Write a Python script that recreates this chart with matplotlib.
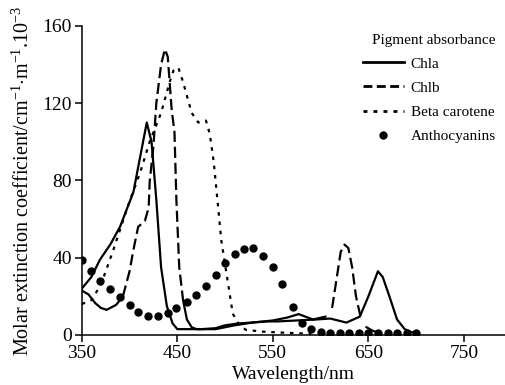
import numpy as np
import matplotlib
matplotlib.use("Agg")
import matplotlib.pyplot as plt
from matplotlib.lines import Line2D

plt.rcParams['font.family'] = ['Liberation Serif', 'DejaVu Serif']
plt.rcParams['mathtext.fontset'] = 'custom'
plt.rcParams['mathtext.rm'] = 'Liberation Serif'
plt.rcParams['mathtext.it'] = 'Liberation Serif:italic'

# ---- data ----
chla_x = [350, 360, 369, 380, 390, 397, 404, 411, 418, 423, 428, 433, 439, 445, 450, 460, 475, 490, 500,
          515, 530, 545, 555, 575, 595, 610, 627, 641, 650, 660, 665, 672, 680, 688, 695, 700]
chla_y = [24, 30, 39, 47, 56, 65, 74, 92, 110, 100, 70, 35, 15, 6, 3, 3, 3, 3.5, 5,
          6, 6.5, 7, 7, 7.5, 8, 8.5, 6.4, 9.5, 20, 33, 30, 20, 8, 3, 1.5, 1]

chlb_x = [350, 357, 364, 370, 376, 386, 393, 400, 404, 409, 416, 420, 421, 425, 428, 433, 437, 440, 444,
          447, 449, 452, 456, 460, 465, 470, 490, 510, 530, 550, 565, 577, 592, 605, 612, 617, 621, 625,
          629, 633, 637, 642, 648, 655, 660]
chlb_y = [23, 21, 16.5, 14, 13, 15.6, 20, 33, 44, 56, 59, 66, 79, 98, 120, 140, 148, 144, 117,
          105, 70, 35, 18, 8, 4, 3, 3, 5, 6.5, 7.5, 9, 10.8, 8, 9.5, 14, 30, 43, 46.8,
          45, 35, 20, 9, 4, 2, 1.5]

beta_x = [350, 360, 370, 383, 397, 411, 421, 425, 433, 442, 446, 451, 456, 465, 472, 480, 484, 488,
          491, 496, 503, 508, 515, 522, 540, 560, 580, 590]
beta_y = [16, 18, 26, 44, 65, 84, 100, 105, 115, 131, 137, 138.5, 131, 115, 110, 111, 104, 90,
          75, 49, 27, 11, 5, 2.6, 1.7, 1.2, 0.8, 0.5]

antho_x = [350, 360, 369, 379, 390, 400, 409, 419, 430, 440, 449, 460, 470, 480, 490, 500, 510, 520,
           529, 540, 550, 560, 571, 580, 590, 600, 610, 620, 630, 640, 650, 660, 670, 680, 690, 700]
antho_y = [39, 33, 28, 23.7, 19.6, 15.6, 12, 9.9, 9.9, 11.6, 14.2, 17.3, 20.8, 25.5, 31, 37.2, 42, 44.5,
           45, 41, 35, 26.5, 14.7, 6.4, 3, 1.6, 1.2, 1, 1, 1, 1, 1, 1, 1, 1, 1]

xticks = [350, 450, 550, 650, 750]
yticks = [0, 40, 80, 120, 160]

# ---- figure ----
fig = plt.figure(figsize=(5.05, 3.85), dpi=100)
ax = fig.add_axes([0.162, 0.130, 0.838, 0.8025])

lw = 1.6
ax.plot(chla_x, chla_y, color='black', lw=lw)

# Chlb: dashed in the high parts, solid in the low tails (as in the reference)
cx = np.array(chlb_x, float)
cy = np.array(chlb_y, float)
dash_parts = [(393, 456), (610, 645)]
solid_parts = [(350, 393), (456, 610), (645, 660)]
for a, b in dash_parts:
    m = (cx >= a) & (cx <= b)
    ax.plot(cx[m], cy[m], color='black', lw=lw, dashes=(5, 2.2))
for a, b in solid_parts:
    m = (cx >= a) & (cx <= b)
    ax.plot(cx[m], cy[m], color='black', lw=lw)

ax.plot(beta_x, beta_y, color='black', lw=lw, dashes=(1.6, 2.6))
ax.plot(antho_x, antho_y, linestyle='none', marker='o', ms=5, color='black')

ax.set_xlim(350, 793)
ax.set_ylim(0, 160)
ax.set_xticks(xticks)
ax.set_yticks(yticks)
ax.spines['top'].set_visible(False)
ax.spines['right'].set_visible(False)
for s in ['left', 'bottom']:
    ax.spines[s].set_linewidth(1.1)
ax.tick_params(direction='out', length=5, width=1.1, labelsize=14, pad=2)

ax.set_xlabel('Wavelength/nm', fontsize=14, labelpad=3)
ax.set_ylabel(r'Molar extinction coefficient/cm$^{-1}$$\cdot$m$^{-1}$.10$^{-3}$', fontsize=14.5, labelpad=6)

handles = [
    Line2D([], [], color='black', lw=2),
    Line2D([], [], color='black', lw=2, dashes=(3.2, 1.6)),
    Line2D([], [], color='black', lw=2, dashes=(1.4, 2.2)),
    Line2D([], [], color='black', linestyle='none', marker='o', ms=5),
]
leg = ax.legend(handles, ['Chla', 'Chlb', 'Beta carotene', 'Anthocyanins'],
                title='Pigment absorbance', frameon=False, fontsize=11, title_fontsize=11,
                loc='upper right', bbox_to_anchor=(1.0, 1.005), handlelength=2.7,
                handletextpad=0.45, labelspacing=0.68, borderaxespad=0.2)
leg._legend_box.align = 'right'

fig.savefig('out.png', dpi=100)
